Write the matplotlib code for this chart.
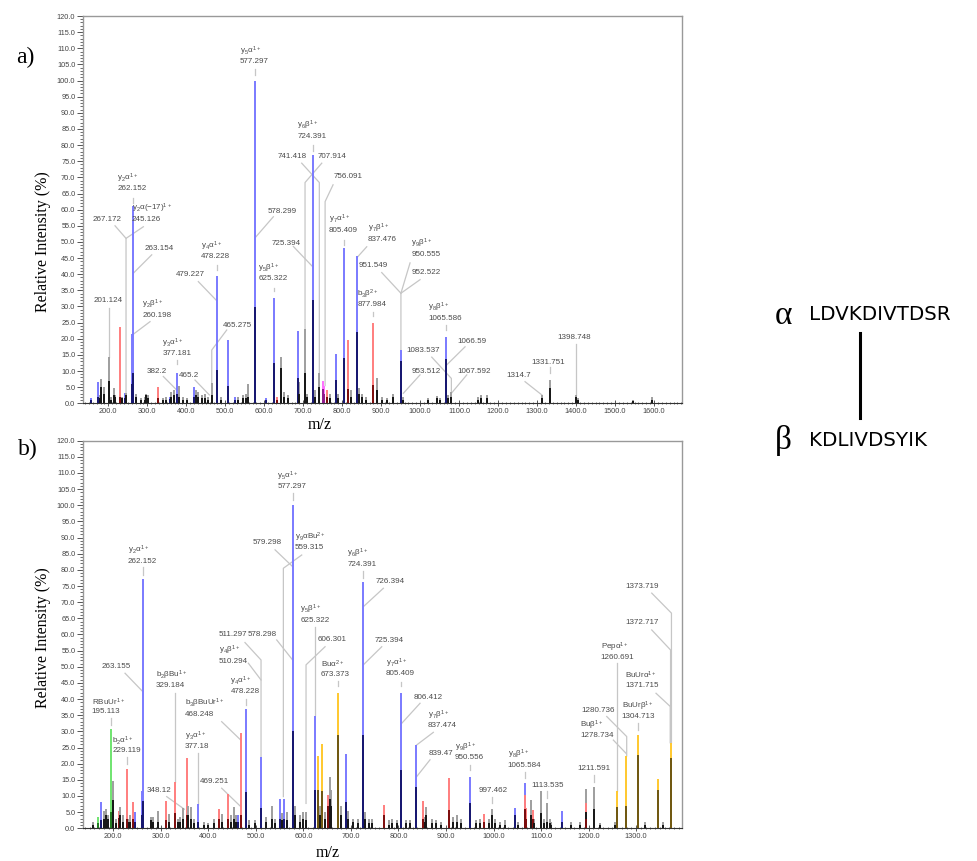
import matplotlib
matplotlib.use("Agg")
import matplotlib.pyplot as plt
from matplotlib.lines import Line2D
from matplotlib.ticker import MultipleLocator, FormatStrFormatter

plt.rcParams['font.family'] = ['Liberation Sans', 'DejaVu Sans']
plt.rcParams['mathtext.fontset'] = 'custom'
plt.rcParams['mathtext.rm'] = 'Liberation Sans'
plt.rcParams['mathtext.it'] = 'Liberation Sans:italic'
plt.rcParams['mathtext.bf'] = 'Liberation Sans:bold'

# ---------------- panel a) peaks: m/z, relative intensity, inner (dark) part, colour class
a_mz = [156.6, 173.7, 178, 182, 188, 201.1, 206, 213.7, 218, 229, 236, 241.8, 245.1,
        260.2, 262.2, 270, 283, 293, 297, 302, 326.8, 340, 347, 358, 362, 368, 377.2,
        382.2, 392, 401, 420, 425, 430, 440, 448, 455, 465.3, 478.2, 490, 508, 525,
        533, 545, 552, 559, 577.3, 605, 625.3, 632, 644, 651, 660, 686.5, 690, 704.6,
        710, 724.4, 730, 741.3, 749.5, 754, 760, 768, 783, 790, 805.4, 815.8, 822,
        837.5, 842, 850, 862, 878, 889, 901.6, 914, 931, 950.6, 957, 1020.7, 1042,
        1050.5, 1065.6, 1071.7, 1080, 1148, 1156.6, 1172, 1313, 1331.8, 1398.7, 1406,
        1545, 1595]
a_int = [1.5, 6.7, 2.6, 7.4, 5.0, 14.3, 2.0, 4.6, 2.6, 23.5, 2.0, 3.3, 3.3,
         21.4, 61.0, 3.0, 1.5, 2.0, 3.0, 2.5, 5.0, 1.5, 2.0, 1.8, 3.5, 4.2, 9.5,
         5.4, 2.0, 1.5, 5.0, 4.0, 3.5, 2.5, 3.0, 2.0, 6.2, 39.5, 2.0, 19.6, 2.0,
         2.0, 2.5, 3.0, 6.0, 100.0, 1.5, 32.7, 2.0, 14.3, 3.5, 2.5, 22.5, 6.5, 22.9,
         3.0, 77.0, 4.0, 9.5, 7.0, 5.5, 4.0, 3.0, 15.3, 3.0, 48.0, 19.6, 4.0,
         45.5, 4.6, 3.0, 2.0, 25.0, 7.7, 2.0, 1.5, 3.0, 16.5, 2.0, 1.5, 2.3,
         1.5, 20.6, 2.5, 3.5, 2.0, 2.5, 2.5, 2.5, 7.2, 2.6, 1.5,
         1.0, 1.8]
a_dark = [1.0, 2.0, 1.5, 5.2, 3.0, 7.0, 1.0, 2.5, 2.0, 2.0, 1.5, 1.5, 2.5,
          6.0, 9.5, 2.0, 1.0, 1.0, 2.5, 1.5, 1.5, 1.0, 1.0, 1.2, 2.0, 2.5, 3.0,
          2.0, 1.0, 1.0, 2.0, 2.5, 2.0, 1.5, 1.5, 1.0, 2.5, 10.3, 1.0, 5.4, 1.0,
          1.0, 1.5, 1.5, 2.0, 29.8, 1.0, 12.6, 1.0, 10.8, 2.0, 1.5, 7.7, 3.0, 9.3,
          2.0, 32.0, 2.0, 5.2, 4.5, 3.0, 2.0, 1.5, 7.2, 1.5, 14.0, 4.3, 2.0,
          22.0, 3.0, 2.0, 1.0, 5.7, 4.0, 1.0, 1.0, 2.0, 13.0, 1.0, 1.0, 1.5,
          1.0, 13.6, 1.5, 2.0, 1.0, 1.5, 1.5, 1.5, 4.7, 2.0, 1.0,
          0.6, 1.0]
a_col = ['b', 'b', 'k', 'k', 'k', 'k', 'k', 'k', 'k', 'r', 'k', 'b', 'k',
         'b', 'b', 'k', 'k', 'k', 'k', 'k', 'r', 'k', 'k', 'b', 'k', 'k', 'b',
         'k', 'k', 'k', 'b', 'k', 'k', 'k', 'k', 'k', 'k', 'b', 'k', 'b', 'b',
         'k', 'k', 'k', 'k', 'b', 'b', 'b', 'r', 'k', 'k', 'k', 'b', 'k', 'k',
         'k', 'b', 'k', 'k', 'm', 'm', 'r', 'k', 'b', 'k', 'b', 'r', 'k',
         'b', 'k', 'k', 'k', 'r', 'k', 'k', 'k', 'k', 'b', 'k', 'k', 'k',
         'k', 'b', 'k', 'k', 'k', 'k', 'k', 'k', 'k', 'k', 'k',
         'k', 'k']

# panel a) annotations: ion name and m/z text
a_names = [r'$\mathrm{y_5α^{1+}}$', r'$\mathrm{y_6β^{1+}}$', '', '', '', '', '',
           r'$\mathrm{y_7α^{1+}}$', r'$\mathrm{y_7β^{1+}}$', r'$\mathrm{y_9β^{1+}}$', '', '',
           r'$\mathrm{b_3β^{2+}}$', r'$\mathrm{y_8β^{1+}}$', '', '', '', '', '', '', '',
           r'$\mathrm{y_2α^{1+}}$', r'$\mathrm{y_2α(-17)^{1+}}$', '', '', r'$\mathrm{y_2β^{1+}}$',
           '', r'$\mathrm{y_3α^{1+}}$', '', '', '', '', r'$\mathrm{y_4α^{1+}}$', r'$\mathrm{y_5β^{1+}}$']
a_values = ['577.297', '724.391', '741.418', '707.914', '756.091', '578.299', '725.394',
            '805.409', '837.476', '950.555', '951.549', '952.522',
            '877.984', '1065.586', '1066.59', '1083.537', '953.512', '1067.592', '1314.7', '1331.751', '1398.748',
            '262.152', '245.126', '267.172', '263.154', '260.198',
            '201.124', '377.181', '382.2', '465.2', '465.275', '479.227', '478.228', '625.322']
# label anchor (centre of the m/z line) and leader paths, in data units
a_label_xy = [(574.6, 106.1), (721.8, 83.0), (670.5, 76.7), (773.1, 76.7), (815.0, 70.5),
              (644.8, 59.7), (655.1, 49.9), (802.9, 53.9), (902.9, 51.2), (1015.0, 46.5),
              (879.8, 42.9), (1016.8, 40.8), (875.7, 30.8), (1063.8, 26.7), (1132.3, 19.6),
              (1008.1, 16.7), (1016.8, 10.3), (1138.2, 10.3), (1251.8, 8.8), (1328.8, 13.1),
              (1394.7, 20.6), (260.0, 66.8), (311.3, 57.3), (197.4, 57.3), (330.8, 48.4),
              (324.2, 27.6), (200.0, 32.3), (375.5, 15.7), (324.2, 10.3), (407.0, 8.8),
              (531.0, 24.3), (409.6, 40.1), (475.5, 45.7), (621.8, 38.9)]
a_paths = [[(577.3, 103.6), (577.3, 101.8)],
           [(724.4, 79.9), (724.4, 78.3)],
           [(696.1, 74.4), (741.3, 68.4), (741.3, 9.5)],
           [(747.5, 74.4), (704.6, 68.4), (704.6, 22.9)],
           [(776.5, 67.7), (756.1, 62.5), (756.1, 5.5)],
           [(623.3, 57.8), (577.3, 51.4)],
           [(674.6, 48.6), (724.4, 42.3)],
           [(805.4, 50.5), (805.4, 49.0)],
           [(862.9, 48.5), (837.5, 45.1)],
           [(974.0, 43.5), (950.6, 34.1), (950.6, 16.5)],
           [(901.4, 40.5), (950.6, 34.1)],
           [(999.6, 38.3), (950.6, 34.1)],
           [(878.0, 28.4), (878.0, 26.9)],
           [(1065.6, 24.2), (1065.6, 22.6)],
           [(1115.1, 17.5), (1068.1, 11.9)],
           [(1029.7, 14.3), (1080.0, 7.7), (1080.0, 3.5)],
           [(999.6, 8.8), (956.8, 3.1)],
           [(1119.5, 8.8), (1080.0, 3.1)],
           [(1269.0, 6.7), (1313.0, 2.5)],
           [(1331.8, 11.3), (1331.8, 9.3)],
           [(1398.7, 18.4), (1398.7, 2.6)],
           [(262.2, 63.5), (262.2, 62.0)],
           [(289.8, 54.7), (245.4, 51.1), (245.4, 3.3)],
           [(217.2, 55.0), (245.4, 51.1)],
           [(311.3, 46.0), (264.1, 40.3)],
           [(307.0, 25.3), (264.1, 21.4)],
           [(201.1, 29.4), (201.1, 14.3)],
           [(377.2, 13.4), (377.2, 12.3)],
           [(341.1, 8.3), (375.5, 4.1)],
           [(422.4, 7.2), (459.1, 2.6)],
           [(503.7, 22.7), (465.3, 16.5), (465.3, 6.2)],
           [(430.9, 37.7), (476.3, 32.0)],
           [(478.2, 42.9), (478.2, 41.3)],
           [(625.3, 35.8), (625.3, 34.8)]]

# ---------------- panel b) peaks
b_mz = [156.6, 167, 174, 180, 184, 188, 195.1, 200, 205, 212, 214.5, 220, 229.1, 233, 236,
        240.7, 245, 259.5, 262.2, 280, 283, 295, 310.9, 317, 329.2, 335, 341, 346, 354.4,
        358, 364, 370, 377.2, 390, 400, 412, 423, 428, 442, 448, 454, 458, 463, 468.2,
        478.2, 486, 498, 510.3, 522, 533, 541, 550.8, 555, 559.3, 566, 577.3, 582, 592,
        599, 606.3, 625.3, 631.4, 635, 639.8, 646, 652.5, 656, 659, 673.4, 680, 689.8,
        694, 705, 714, 724.4, 729, 738, 745, 769.7, 780, 787, 797, 805.4, 815, 824, 837.5,
        851, 855, 859, 870, 880, 890, 907, 915, 923, 932, 950.6, 964, 971, 980, 990,
        997.5, 1003, 1013, 1024, 1045.3, 1052, 1065.6, 1066.5, 1069, 1079, 1083, 1086,
        1099.4, 1106, 1113.5, 1118, 1121, 1143.5, 1164, 1182, 1194.7, 1195.5, 1211.6,
        1224, 1256, 1260.7, 1279.5, 1304.7, 1318, 1346.9, 1356, 1372.5]
b_int = [2.0, 3.6, 8.0, 5.5, 6.0, 4.0, 30.6, 14.6, 3.0, 5.5, 6.5, 4.0, 18.4, 3.0, 4.0,
         8.2, 5.0, 11.5, 77.1, 3.5, 3.5, 5.5, 8.3, 4.5, 14.4, 3.0, 3.5, 6.2, 21.9,
         6.9, 6.5, 3.0, 7.4, 2.0, 1.5, 3.0, 5.9, 4.5, 10.6, 4.0, 6.5, 4.0, 4.0, 29.6,
         36.8, 2.5, 2.5, 22.2, 3.5, 6.8, 3.0, 9.2, 4.7, 9.2, 5.0, 100.0, 7.0, 4.0,
         5.0, 5.0, 34.9, 22.4, 7.0, 26.0, 5.0, 10.4, 16.0, 12.0, 42.0, 7.0, 23.0,
         5.5, 3.0, 3.0, 76.1, 5.0, 3.0, 3.0, 7.2, 2.5, 3.0, 2.5, 42.0, 2.5, 2.5, 25.8,
         8.3, 3.5, 6.5, 3.0, 2.5, 2.0, 15.5, 3.5, 4.0, 3.0, 16.0, 2.5, 3.0, 4.3, 3.0,
         5.9, 3.0, 2.0, 2.5, 6.2, 2.0, 13.9, 10.3, 6.2, 8.8, 5.7, 3.0,
         11.4, 3.0, 7.7, 3.0, 2.0, 5.5, 2.0, 2.0, 12.1, 7.7, 12.9,
         1.5, 2.0, 11.4, 22.4, 28.9, 2.0, 15.2, 2.0, 26.5]
b_dark = [1.0, 1.5, 2.5, 3.0, 4.0, 3.0, 5.0, 8.8, 1.5, 3.1, 4.0, 2.0, 3.0, 2.0, 2.0,
          3.0, 2.0, 4.0, 8.6, 2.5, 2.0, 2.0, 2.5, 2.0, 4.6, 2.0, 2.0, 3.0, 4.0,
          4.0, 3.0, 1.5, 2.0, 1.0, 1.0, 1.5, 3.0, 2.0, 3.0, 2.0, 3.0, 2.0, 2.0, 4.0,
          11.1, 1.0, 1.5, 6.4, 2.0, 3.0, 1.5, 3.0, 2.5, 3.0, 2.5, 30.1, 4.0, 2.0,
          3.0, 2.5, 12.0, 11.9, 4.0, 11.6, 3.0, 7.0, 9.0, 7.0, 28.9, 4.0, 8.0,
          3.0, 2.0, 1.5, 28.9, 3.0, 1.5, 1.5, 4.1, 1.0, 1.5, 1.5, 18.0, 1.5, 1.5, 12.9,
          3.0, 2.0, 4.0, 1.5, 1.5, 1.0, 5.7, 2.0, 2.0, 1.5, 7.7, 1.5, 1.5, 2.0, 1.5,
          4.1, 1.5, 1.0, 1.0, 4.0, 1.0, 6.0, 6.0, 3.0, 4.0, 3.0, 1.5,
          4.6, 1.5, 2.0, 1.5, 1.0, 2.0, 1.0, 1.0, 5.0, 3.0, 5.9,
          1.0, 1.0, 6.5, 6.9, 22.7, 1.0, 11.7, 1.0, 21.9]
b_col = ['k', 'g', 'b', 'k', 'k', 'k', 'g', 'k', 'k', 'r', 'k', 'k', 'r', 'k', 'k',
         'r', 'b', 'b', 'b', 'k', 'k', 'k', 'r', 'k', 'r', 'k', 'k', 'k', 'r',
         'k', 'k', 'k', 'b', 'k', 'k', 'k', 'r', 'k', 'r', 'k', 'k', 'k', 'b', 'r',
         'b', 'k', 'k', 'b', 'k', 'k', 'k', 'b', 'k', 'b', 'k', 'b', 'k', 'k',
         'k', 'k', 'b', 'y', 'k', 'y', 'k', 'r', 'k', 'k', 'y', 'k', 'b',
         'k', 'k', 'k', 'b', 'k', 'k', 'k', 'r', 'k', 'k', 'k', 'b', 'k', 'k', 'b',
         'r', 'k', 'k', 'k', 'k', 'k', 'r', 'k', 'k', 'k', 'b', 'k', 'k', 'r', 'k',
         'k', 'k', 'k', 'k', 'b', 'k', 'b', 'r', 'r', 'k', 'r', 'k',
         'k', 'k', 'k', 'k', 'k', 'b', 'k', 'k', 'k', 'r', 'k',
         'k', 'k', 'y', 'y', 'y', 'k', 'y', 'k', 'y']

b_names = [r'$\mathrm{y_5α^{1+}}$', r'$\mathrm{y_9αBu^{2+}}$', '', r'$\mathrm{y_2α^{1+}}$',
           r'$\mathrm{y_5β^{1+}}$', '', '', '', r'$\mathrm{y_4β^{1+}}$', r'$\mathrm{Buα^{2+}}$',
           r'$\mathrm{y_4α^{1+}}$', r'$\mathrm{b_2βBu^{1+}}$', r'$\mathrm{b_3βBuUr^{1+}}$', '',
           r'$\mathrm{RBuUr^{1+}}$', r'$\mathrm{b_2α^{1+}}$', r'$\mathrm{y_3α^{1+}}$', '', '',
           r'$\mathrm{y_6β^{1+}}$', '', '', r'$\mathrm{y_7α^{1+}}$', '', r'$\mathrm{y_7β^{1+}}$', '',
           r'$\mathrm{y_9β^{1+}}$', '', r'$\mathrm{y_8β^{1+}}$', '', '', '', r'$\mathrm{Buβ^{1+}}$',
           r'$\mathrm{Pepα^{1+}}$', r'$\mathrm{BuUrβ^{1+}}$', r'$\mathrm{BuUrα^{1+}}$', '', '']
b_values = ['577.297', '559.315', '579.298', '262.152', '625.322', '511.297', '578.298',
            '606.301', '510.294', '673.373', '478.228', '329.184', '468.248', '263.155',
            '195.113', '229.119', '377.18', '348.12', '469.251',
            '724.391', '726.394', '725.394', '805.409', '806.412', '837.474', '839.47',
            '950.556', '997.462', '1065.584', '1113.535', '1211.591', '1280.736', '1278.734',
            '1260.691', '1304.713', '1371.715', '1372.717', '1373.719']
b_label_xy = [(575.4, 106.0), (614.0, 87.2), (522.8, 88.7), (261.0, 83.0), (624.5, 64.7),
              (452.5, 60.4), (512.2, 60.4), (659.6, 58.8), (452.5, 52.1), (666.5, 48.0),
              (477.0, 42.6), (322.8, 44.4), (393.0, 35.6), (207.0, 50.4), (189.5, 36.4),
              (228.0, 24.3), (376.8, 25.5), (296.8, 12.1), (412.0, 14.8),
              (722.7, 82.0), (782.3, 76.7), (780.0, 58.6), (803.3, 48.2), (863.0, 40.8),
              (892.3, 32.0), (889.0, 23.4), (949.2, 22.2), (998.4, 12.1), (1065.0, 19.9),
              (1114.1, 13.7), (1211.6, 18.9), (1220.7, 36.9), (1217.2, 28.9), (1261.4, 53.1),
              (1304.8, 34.9), (1311.9, 44.6), (1312.6, 64.0), (1313.0, 75.1)]
b_paths = [[(577.3, 103.7), (577.3, 101.6)],
           [(596.4, 84.6), (557.8, 80.5), (557.8, 9.8)],
           [(540.3, 86.2), (577.3, 81.0)],
           [(262.2, 80.8), (262.2, 78.5)],
           [(625.3, 62.4), (625.3, 35.0)],
           [(477.0, 57.5), (510.8, 52.1), (510.8, 22.2)],
           [(543.8, 58.3), (577.3, 52.1)],
           [(645.5, 56.2), (605.5, 50.6), (605.5, 7.7)],
           [(484.1, 51.1), (510.8, 45.9)],
           [(673.4, 45.6), (673.4, 43.9)],
           [(478.2, 40.0), (478.2, 38.2)],
           [(329.2, 41.8), (329.2, 14.4)],
           [(428.0, 33.0), (468.2, 27.3)],
           [(224.6, 48.0), (262.0, 42.3)],
           [(195.1, 34.0), (195.1, 32.0)],
           [(229.1, 22.0), (229.1, 20.0)],
           [(377.2, 23.2), (377.2, 7.5)],
           [(312.3, 9.8), (349.4, 5.9)],
           [(428.0, 12.4), (468.2, 6.7)],
           [(724.4, 79.5), (724.4, 77.4)],
           [(768.2, 74.3), (726.1, 68.6)],
           [(764.8, 56.2), (726.1, 50.6)],
           [(805.4, 45.4), (805.4, 43.9)],
           [(845.4, 38.7), (806.9, 32.5)],
           [(873.4, 29.7), (838.4, 25.8)],
           [(866.4, 21.2), (838.4, 16.0)],
           [(950.6, 19.6), (950.6, 18.0)],
           [(997.5, 9.8), (997.5, 7.7)],
           [(1065.6, 17.5), (1065.6, 15.5)],
           [(1113.5, 11.4), (1113.5, 9.3)],
           [(1211.6, 16.5), (1211.6, 14.4)],
           [(1238.3, 34.6), (1280.3, 28.4), (1280.3, 22.4)],
           [(1252.2, 27.3), (1279.0, 23.2)],
           [(1260.7, 51.1), (1260.7, 11.4)],
           [(1304.7, 32.5), (1304.7, 30.4)],
           [(1342.0, 41.8), (1372.0, 37.7), (1372.0, 26.5)],
           [(1333.0, 61.4), (1372.6, 55.2), (1372.6, 26.5)],
           [(1333.0, 72.8), (1374.5, 66.6), (1374.5, 26.5)]]

LIGHT = {'b': '#7a7aff', 'k': '#9e9e9e', 'r': '#ff7e7e', 'g': '#6fe46f', 'y': '#ffc82e', 'm': '#ff70ff'}
DARK = {'b': '#16166e', 'k': '#161616', 'r': '#7c0c0c', 'g': '#1f7a1f', 'y': '#6e5612', 'm': '#8c1c8c'}


def draw_panel(ax, mz, inten, dark, col, names, values, label_xy, paths, xlim):
    ax.set_xlim(*xlim)
    ax.set_ylim(0, 120)
    for path in paths:
        xs = [p[0] for p in path]
        ys = [p[1] for p in path]
        ax.plot(xs, ys, color='#c6c6c6', lw=0.9, zorder=1)
    ax.vlines(mz, 0, inten, colors=[LIGHT[c] for c in col], lw=1.4, zorder=2)
    ax.vlines(mz, 0, dark, colors=[DARK[c] for c in col], lw=1.4, zorder=3)
    for name, val, (x, y) in zip(names, values, label_xy):
        txt = val if not name else name + '\n' + val
        ax.text(x, y - 1.4, txt, ha='center', va='bottom', multialignment='left',
                fontsize=5.8, color='#4a4a4a', zorder=4, linespacing=1.1)

    ax.yaxis.set_major_locator(MultipleLocator(5))
    ax.yaxis.set_minor_locator(MultipleLocator(1))
    ax.yaxis.set_major_formatter(FormatStrFormatter('%.1f'))
    ax.xaxis.set_major_locator(MultipleLocator(100))
    ax.xaxis.set_minor_locator(MultipleLocator(10))
    ax.xaxis.set_major_formatter(FormatStrFormatter('%.1f'))
    ax.tick_params(axis='both', which='major', labelsize=5.3, labelcolor='#444444',
                   color='#555555', length=4, width=0.7, pad=1.5)
    ax.tick_params(axis='both', which='minor', length=2, width=0.6, color='#555555')
    ax.tick_params(axis='x', which='both', direction='inout')
    for side in ['top', 'right', 'left']:
        ax.spines[side].set_color('#999999')
        ax.spines[side].set_linewidth(1.0)
    ax.spines['bottom'].set_color('#333333')
    ax.spines['bottom'].set_linewidth(0.8)


fig = plt.figure(figsize=(9.78, 8.61), dpi=100)
ax_a = fig.add_axes([0.0849, 0.5316, 0.6125, 0.4498])
ax_b = fig.add_axes([0.0849, 0.0380, 0.6125, 0.4502])

draw_panel(ax_a, a_mz, a_int, a_dark, a_col, a_names, a_values, a_label_xy, a_paths, (135.1, 1671.8))
draw_panel(ax_b, b_mz, b_int, b_dark, b_col, b_names, b_values, b_label_xy, b_paths, (136.2, 1396.8))

serif = ['Liberation Serif', 'DejaVu Serif']
fig.text(43.3 / 978, 1 - 241.7 / 861, 'Relative Intensity (%)', rotation=90, family=serif,
         fontsize=11.5, ha='center', va='center')
fig.text(43.3 / 978, 1 - 637.7 / 861, 'Relative Intensity (%)', rotation=90, family=serif,
         fontsize=11.5, ha='center', va='center')
fig.text(319.3 / 978, 1 - 425 / 861, 'm/z', family=serif, fontsize=11.5, ha='center', va='center')
fig.text(328 / 978, 1 - 853 / 861, 'm/z', family=serif, fontsize=11.5, ha='center', va='center')
fig.text(25 / 978, 1 - 57 / 861, 'a)', family=serif, fontsize=17, ha='center', va='center')
fig.text(28 / 978, 1 - 449 / 861, 'b)', family=serif, fontsize=17, ha='center', va='center')

# cross-linked peptide sketch
fig.text(783 / 978, 1 - 316 / 861, 'α', family=serif, fontsize=24, ha='center', va='center')
fig.text(809 / 978, 1 - 315 / 861, 'LDVKDIVTDSR', family=['DejaVu Sans'], fontsize=14.3,
         ha='left', va='center')
fig.text(783 / 978, 1 - 440 / 861, 'β', family=serif, fontsize=24, ha='center', va='center')
fig.text(809 / 978, 1 - 440 / 861, 'KDLIVDSYIK', family=['DejaVu Sans'], fontsize=14.3,
         ha='left', va='center')
fig.add_artist(Line2D([860 / 978, 860 / 978], [1 - 333 / 861, 1 - 418 / 861], lw=2.2, color='black'))

fig.savefig('out.png', dpi=100)
